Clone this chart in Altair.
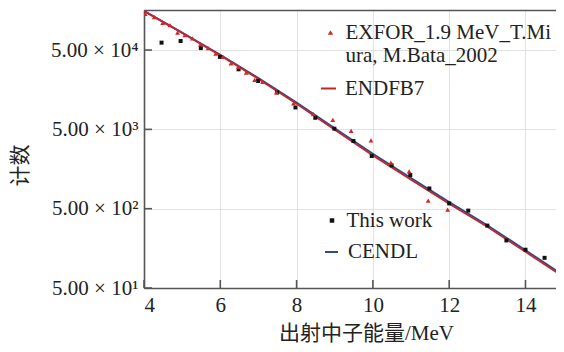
import altair as alt
import pandas as pd

# ---- data ----
exfor_E = [4.03, 4.27, 4.49, 4.68, 4.88, 5.07, 5.27, 5.48, 5.68, 5.88, 6.07, 6.28, 6.48,
           6.68, 6.9, 7.11, 7.47, 7.92, 8.44, 8.95, 9.43, 9.95, 10.47, 10.95, 11.45, 11.96]
exfor_N = [1.43e5, 1.30e5, 1.10e5, 1.03e5, 8.3e4, 7.7e4, 7.0e4, 5.9e4, 5.3e4, 4.5e4, 4.1e4,
           3.4e4, 3.06e4, 2.6e4, 2.1e4, 1.98e4, 1.46e4, 1.06e4, 7.8e3, 6.6e3, 4.8e3, 3.64e3,
           1.9e3, 1.48e3, 630, 486]

work_E = [4.46, 4.96, 5.49, 5.99, 6.48, 6.99, 7.49, 7.97, 8.49, 8.99, 9.49, 9.97, 10.49,
          10.98, 11.48, 12.0, 12.5, 13.0, 13.5, 14.0, 14.5, 14.95]
work_N = [6.2e4, 6.5e4, 5.3e4, 4.1e4, 2.86e4, 2.04e4, 1.46e4, 9.45e3, 7.0e3, 5.1e3, 3.57e3,
          2.31e3, 1.76e3, 1.33e3, 900, 583, 473, 306, 199, 152, 120, 93]

line_E = [4, 5, 6, 7, 8, 9, 10, 11, 12, 13, 14, 15]
endf_N = [1.55e5, 8.2e4, 4.28e4, 2.16e4, 1.05e4, 4.93e3, 2.35e3, 1.16e3, 576, 296, 143, 69]
cendl_N = [1.56e5, 8.3e4, 4.36e4, 2.22e4, 1.09e4, 5.15e3, 2.46e3, 1.22e3, 605, 310, 150, 72]

x_ticks = [4, 6, 8, 10, 12, 14]
y_ticks = [50, 500, 5000, 50000]

names = ["EXFOR_1.9 MeV_T.Mi|ura, M.Bata_2002", "ENDFB7", "This work", "CENDL"]

FONT = "Liberation Serif, Noto Sans CJK SC"
AX = "#555555"
TXT = "#222222"

exfor_df = pd.DataFrame({"E": exfor_E, "N": exfor_N, "s": names[0]})
work_df = pd.DataFrame({"E": work_E, "N": work_N, "s": names[2]})
endf_df = pd.DataFrame({"E": line_E, "N": endf_N, "s": names[1]})
cendl_df = pd.DataFrame({"E": line_E, "N": cendl_N, "s": names[3]})
xt_df = pd.DataFrame({"v": x_ticks})
yt_df = pd.DataFrame({"v": y_ticks})

xs = alt.Scale(domain=[4, 14.8], nice=False, zero=False)
ys = alt.Scale(type="log", domain=[50, 1.6e5], nice=False)


def leg(x, y, sym, size, off, stroke=None):
    kw = dict(orient="none", legendX=x, legendY=y, title=None, padding=0,
              symbolType=sym, symbolSize=size, labelOffset=off, labelFont=FONT,
              labelFontSize=21, labelColor=TXT, labelLimit=0,
              labelExpr="split(datum.label, '|')")
    if stroke is not None:
        kw["symbolStrokeWidth"] = stroke
    return alt.Legend(**kw)


bottom_x = alt.Axis(values=x_ticks, grid=True, gridColor="#e2e2e2", gridWidth=1,
                    domainColor=AX, domainWidth=1.6, ticks=False,
                    labelFont=FONT, labelFontSize=21, labelColor=TXT, labelPadding=6,
                    title="出射中子能量/MeV", titleFont=FONT, titleFontSize=21,
                    titleFontWeight="normal", titleColor=TXT, titleX=222, titleY=45,
                    titleBaseline="middle")
left_y = alt.Axis(values=y_ticks, grid=True, gridColor="#e2e2e2", gridWidth=1,
                  domainColor=AX, domainWidth=1.6, ticks=False,
                  labelFont=FONT, labelFontSize=21, labelColor=TXT, labelPadding=6,
                  labelExpr="'5.00 × 10' + (datum.value < 100 ? '¹' : datum.value < 1000 ? '²' : datum.value < 10000 ? '³' : '⁴')",
                  title="计数", titleFont=FONT, titleFontSize=21, titleFontWeight="normal",
                  titleColor=TXT, titleX=-124, titleY=155, titleBaseline="middle",
                  titleAlign="center")
top_x = alt.Axis(orient="top", labels=False, ticks=False, grid=False, domainColor=AX,
                 domainWidth=1.6, title=None)

cendl = alt.Chart(cendl_df).mark_line(strokeWidth=1.8, clip=True).encode(
    x=alt.X("E:Q", scale=xs, axis=bottom_x),
    y=alt.Y("N:Q", scale=ys, axis=left_y),
    color=alt.Color("s:N", scale=alt.Scale(domain=[names[3]], range=["#2b4c8c"]),
                    legend=leg(177, 231.5, "stroke", 169, 6, 2)),
)
endf = alt.Chart(endf_df).mark_line(strokeWidth=1.8, clip=True).encode(
    x=alt.X("E:Q", scale=xs, axis=top_x),
    y=alt.Y("N:Q", scale=ys, axis=None),
    color=alt.Color("s:N", scale=alt.Scale(domain=[names[1]], range=["#c0272d"]),
                    legend=leg(174, 68, "stroke", 225, 6, 2)),
)
work = alt.Chart(work_df).mark_point(shape="square", filled=True, size=16, opacity=1,
                                     clip=True).encode(
    x=alt.X("E:Q", scale=xs, axis=None),
    y=alt.Y("N:Q", scale=ys, axis=None),
    color=alt.Color("s:N", scale=alt.Scale(domain=[names[2]], range=["#111111"]),
                    legend=leg(177.5, 200, "square", 20, 4)),
)
exfor = alt.Chart(exfor_df).mark_point(shape="triangle-up", filled=True, size=24,
                                       opacity=1, clip=True).encode(
    x=alt.X("E:Q", scale=xs, axis=None),
    y=alt.Y("N:Q", scale=ys, axis=None),
    color=alt.Color("s:N", scale=alt.Scale(domain=[names[0]], range=["#d0282e"]),
                    legend=leg(176, 12, "triangle-up", 30, 4.5)),
)
xtick = alt.Chart(xt_df).mark_rule(color=AX, strokeWidth=1.6).encode(
    x=alt.X("v:Q", scale=xs, axis=None), y=alt.value(278), y2=alt.value(270))
ytick = alt.Chart(yt_df).mark_rule(color=AX, strokeWidth=1.6).encode(
    y=alt.Y("v:Q", scale=ys, axis=None), x=alt.value(0), x2=alt.value(8))

chart = alt.layer(cendl, endf, work, exfor, xtick, ytick).resolve_scale(
    color="independent").resolve_axis(x="independent", y="independent").properties(
    width=412, height=278,
    autosize=alt.AutoSizeParams(type="none"),
    padding={"left": 136, "top": 2, "right": 0, "bottom": 56},
).configure_view(stroke=None).configure(background="white")

chart.save("out.html", embed_options={"renderer": "svg", "actions": False})
